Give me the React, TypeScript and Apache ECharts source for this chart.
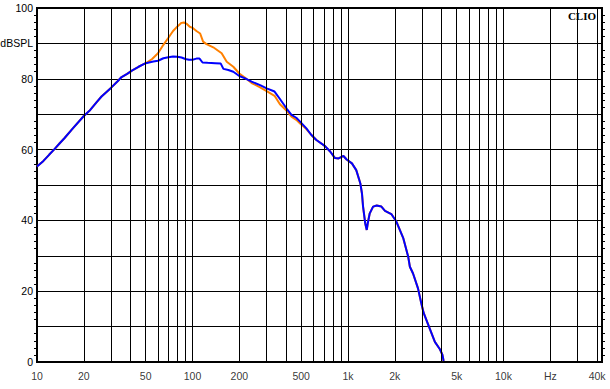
import React, { useEffect, useRef } from "react";
import * as echarts from "echarts";

const blueFreq = [10, 11, 12, 13, 14, 15, 17, 20, 22, 24.2, 26, 28, 30, 33, 35, 38, 41, 45, 50, 56, 60, 65, 70, 75, 80, 85, 90, 95, 100, 106, 111, 116, 125, 140, 152, 158, 170, 183, 200, 218, 240, 272, 300, 337, 365, 403, 433, 465, 492, 540, 580, 626, 712, 770, 825, 870, 935, 980, 1060, 1130, 1200, 1230, 1250, 1290, 1320, 1340, 1380, 1450, 1530, 1640, 1730, 1900, 2050, 2270, 2440, 2500, 2620, 2820, 2960, 3070, 3350, 3620, 3900, 4050, 4120];
const blueDb = [55.2, 56.8, 58.6, 60.2, 61.8, 63.2, 66.0, 69.5, 71.2, 73.4, 75.0, 76.3, 77.5, 79.3, 80.5, 81.4, 82.4, 83.4, 84.4, 84.9, 85.1, 85.8, 86.1, 86.3, 86.2, 86.0, 85.6, 85.4, 85.4, 85.7, 85.7, 84.6, 84.5, 84.4, 84.3, 82.8, 82.5, 82.0, 80.8, 80.1, 79.2, 78.2, 77.3, 76.4, 74.3, 71.6, 69.8, 69.0, 67.9, 66.0, 64.2, 62.7, 61.0, 59.4, 57.6, 57.5, 58.2, 57.2, 56.1, 54.2, 50.5, 47.6, 43.9, 39.2, 37.3, 39.2, 42.0, 43.9, 44.2, 43.9, 42.7, 41.8, 39.6, 34.9, 29.7, 26.9, 25.0, 20.8, 16.6, 13.8, 9.5, 5.7, 3.6, 2.0, 0.3];

const orangeFreq = [10, 11, 12, 13, 14, 15, 17, 20, 22, 24.2, 26, 28, 30, 33, 35, 38, 41, 45, 50, 55, 60, 65, 70, 75, 80, 85, 88, 92, 96, 100, 106, 112, 117, 123, 136, 154, 166, 183, 200, 218, 240, 272, 300, 337, 365, 403, 433, 465, 492, 540, 580, 626, 712, 770, 825, 870, 935, 980, 1060, 1130, 1200, 1230, 1250, 1290, 1320, 1340, 1380, 1450, 1530, 1640, 1730, 1900, 2050, 2270, 2440, 2500, 2620, 2820, 2960, 3070, 3350, 3620, 3900, 4050, 4120];
const orangeDb = [55.2, 56.8, 58.6, 60.2, 61.8, 63.2, 66.0, 69.5, 71.2, 73.4, 75.0, 76.3, 77.5, 79.3, 80.5, 81.4, 82.4, 83.4, 84.4, 85.6, 87.2, 89.6, 91.6, 93.5, 94.8, 95.8, 95.9, 95.5, 94.7, 94.4, 93.5, 92.8, 90.5, 89.8, 88.9, 87.2, 84.8, 83.4, 81.5, 80.3, 78.8, 77.6, 76.5, 75.2, 72.8, 71.0, 69.3, 68.4, 67.4, 65.8, 64.2, 62.7, 61.0, 59.4, 57.6, 57.5, 58.2, 57.2, 56.1, 54.2, 50.5, 47.6, 43.9, 39.2, 37.3, 39.2, 42.0, 43.9, 44.2, 43.9, 42.7, 41.8, 39.6, 34.9, 29.7, 26.9, 25.0, 20.8, 16.6, 13.8, 9.5, 5.7, 3.6, 2.0, 0.3];

const gridFreqs = [20, 30, 40, 50, 60, 70, 80, 90, 100, 200, 300, 400, 500, 600, 700, 800, 900, 1000, 2000, 3000, 4000, 5000, 6000, 7000, 8000, 9000, 10000, 20000, 30000, 40000];
const xTickValues = [10, 20, 50, 100, 200, 500, 1000, 2000, 5000, 10000, 20000, 40000];
const xTickLabels = ["10", "20", "50", "100", "200", "500", "1k", "2k", "5k", "10k", "Hz", "40k"];

const FONT = "Liberation Sans";

export default function App() {
  const ref = useRef<HTMLDivElement>(null);
  useEffect(() => {
    if (!ref.current) return;
    const chart = echarts.init(ref.current, null, { renderer: "svg" });
    chart.setOption({
      animation: false,
      backgroundColor: "#fff",
      title: {
        text: "CLIO",
        right: 9,
        top: 5,
        textStyle: { fontFamily: "Liberation Serif", fontWeight: "bold", fontSize: 11, color: "#000" },
      },
      grid: {
        left: 37, right: 8, top: 8, bottom: 27,
        outerBoundsMode: "none",
        containLabel: false,
        show: true, borderColor: "#000", borderWidth: 2, backgroundColor: "transparent",
      },
      xAxis: {
        type: "log",
        logBase: 10,
        min: 10,
        max: 43000,
        axisLine: { show: true, lineStyle: { color: "#000", width: 2 } },
        axisTick: { show: false },
        axisLabel: { show: false },
        splitLine: { show: false },
      },
      yAxis: [
        {
          type: "value",
          min: 0,
          max: 100,
          interval: 10,
          axisLine: { show: true, lineStyle: { color: "#000", width: 2 } },
          axisTick: { show: false },
          minorTick: { show: true, splitNumber: 5, length: 3, lineStyle: { color: "#000", width: 1 } },
          axisLabel: {
            margin: 4,
            color: "#000",
            fontFamily: FONT,
            fontSize: 10.5,
            formatter: (v: number) => (v === 90 ? "dBSPL" : v % 20 === 0 ? String(v) : ""),
          },
          splitLine: { show: true, lineStyle: { color: "#000", width: 1 } },
        },
        {
          type: "value",
          min: 0,
          max: 100,
          interval: 10,
          position: "right",
          axisLine: { show: true, lineStyle: { color: "#000", width: 2 } },
          axisTick: { show: false },
          minorTick: { show: true, splitNumber: 5, length: 3, lineStyle: { color: "#000", width: 1 } },
          axisLabel: { show: false },
          splitLine: { show: false },
        },
      ],
      series: [
        {
          type: "line",
          data: [],
          z: 1,
          silent: true,
          markLine: {
            silent: true,
            symbol: "none",
            animation: false,
            lineStyle: { color: "#000", width: 1, type: "solid" },
            label: { show: false },
            data: gridFreqs.map((f) => ({ xAxis: f })),
          },
        },
        {
          type: "scatter",
          data: xTickValues.map((f) => [f, 0]),
          symbolSize: 0,
          clip: false,
          silent: true,
          z: 2,
          label: {
            show: true,
            position: "bottom",
            distance: 8,
            color: "#000",
            fontFamily: FONT,
            fontSize: 10.5,
            formatter: (p: any) => xTickLabels[p.dataIndex],
          },
        },
        {
          type: "line",
          data: orangeFreq.map((f, i) => [f, orangeDb[i]]),
          showSymbol: false,
          z: 3,
          lineStyle: { color: "#ff8000", width: 2 },
          itemStyle: { color: "#ff8000" },
        },
        {
          type: "line",
          data: blueFreq.map((f, i) => [f, blueDb[i]]),
          showSymbol: false,
          z: 4,
          lineStyle: { color: "#0000ff", width: 2 },
          itemStyle: { color: "#0000ff" },
        },
      ],
    });
    return () => chart.dispose();
  }, []);
  return <div ref={ref} style={{ position: "fixed", left: 0, top: 0, width: 610, height: 389 }} />;
}
